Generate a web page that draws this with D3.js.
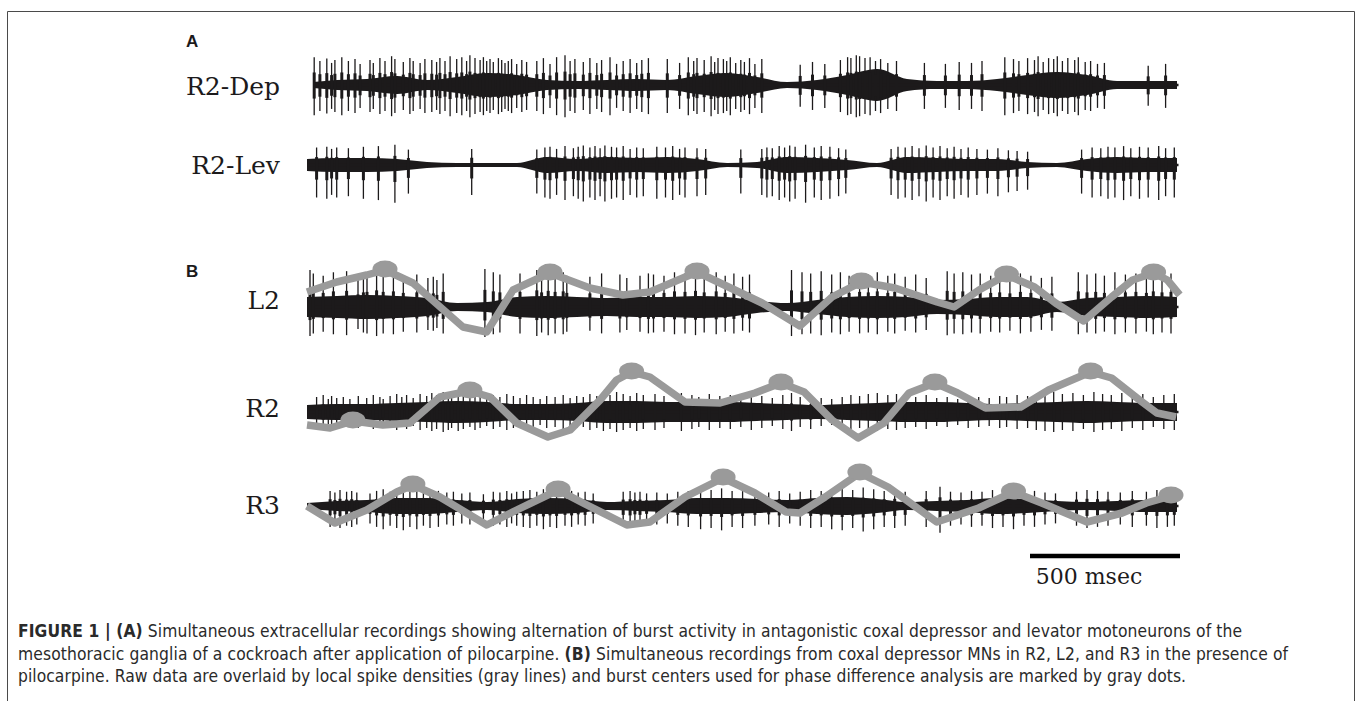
<!DOCTYPE html>
<html>
<head>
<meta charset="utf-8">
<script src="https://cdn.jsdelivr.net/npm/d3@7"></script>
<style>
  body { margin: 0; background: #fff; }
  svg { display: block; }
</style>
</head>
<body>
<svg id="fig"></svg>
<script>
// time of each envelope sample (ms)
const envTimes = [0, 100, 200, 300, 400, 500, 600, 700, 800, 900, 1000, 1100, 1200, 1300, 1400,
  1500, 1600, 1700, 1800, 1900, 2000, 2100, 2200, 2300, 2400, 2500, 2600, 2700, 2800, 2900];

// background noise half-amplitude per trace (µV)
const depEnv = [3, 5, 6, 9, 5, 8, 12, 10, 5, 4, 5, 6, 5, 9, 12, 8, 3, 5, 10, 16, 6, 4, 4, 6, 10, 13, 10, 4, 4, 4];
const levEnv = [6, 7, 7, 6, 3, 2, 2, 2, 8, 6, 8, 7, 8, 6, 2, 3, 8, 7, 5, 2, 8, 7, 6, 6, 3, 2, 6, 8, 7, 7];
const l2Env = [10, 11, 12, 11, 9, 4, 5, 10, 11, 10, 9, 10, 10, 11, 10, 6, 4, 7, 10, 11, 10, 7, 8, 10, 10, 5, 9, 10, 11, 10];
const r2Env = [7, 8, 8, 9, 10, 11, 10, 8, 8, 9, 11, 11, 10, 10, 10, 9, 8, 7, 8, 9, 10, 10, 9, 8, 9, 10, 11, 10, 9, 9];
const r3Env = [3, 5, 6, 8, 8, 6, 4, 7, 8, 7, 4, 5, 6, 8, 8, 7, 6, 8, 9, 7, 4, 5, 6, 8, 7, 5, 4, 5, 6, 6];

// large spikes: [time ms, peak-to-peak µV]
const depSpikes = [[24,58],[43,50],[66,55],[82,46],[93,52],[116,58],[138,50],[160,54],[177,44],[210,52],
  [221,46],[243,56],[260,50],[282,60],[293,54],[321,48],[343,56],[354,50],[377,46],[393,54],[416,52],
  [432,48],[443,56],[460,50],[477,60],[499,54],[516,58],[532,50],[543,62],[560,56],[577,52],[588,58],
  [599,50],[610,54],[621,48],[638,56],[649,52],[660,46],[671,50],[682,54],[699,44],[716,52],[732,48],
  [766,50],[788,56],[810,44],[832,58],[860,62],[877,50],[893,54],[921,48],[943,56],[966,46],[982,52],
  [1010,58],[1032,44],[1054,50],[1077,54],[1099,46],[1116,52],[1138,56],[1201,54],[1242,46],[1271,58],
  [1289,50],[1300,56],[1324,52],[1347,60],[1359,48],[1370,56],[1388,54],[1399,50],[1411,58],[1429,46],
  [1446,52],[1458,48],[1475,56],[1493,44],[1516,54],[1644,42],[1685,48],[1726,44],[1778,52],[1802,58],
  [1813,56],[1831,62],[1842,60],[1860,56],[1877,58],[1895,50],[1912,54],[1936,46],[1965,50],[2058,46],
  [2128,44],[2174,48],[2215,46],[2250,50],[2326,58],[2355,54],[2373,50],[2402,56],[2425,52],[2437,60],
  [2454,48],[2472,56],[2489,54],[2501,60],[2518,50],[2536,56],[2559,52],[2571,58],[2594,48],[2612,50],
  [2635,44],[2658,46],[2804,40],[2862,44]];

const levSpikes = [[32,50],[66,52],[82,46],[99,50],[138,48],[188,52],[238,54],[293,58],[338,44],[549,46],
  [766,44],[793,50],[810,52],[832,46],[860,54],[888,48],[904,52],[921,56],[943,50],[960,54],[977,48],
  [993,56],[1015,52],[1032,50],[1054,54],[1077,46],[1099,50],[1121,48],[1166,52],[1195,50],[1219,54],
  [1242,46],[1260,50],[1300,48],[1329,46],[1446,44],[1516,46],[1533,50],[1551,48],[1574,54],[1592,50],
  [1609,56],[1627,52],[1662,58],[1691,50],[1714,54],[1743,52],[1772,48],[1796,44],[1947,46],[1970,52],
  [1994,50],[2017,54],[2040,48],[2064,56],[2087,50],[2110,54],[2134,48],[2157,52],[2180,46],[2204,50],
  [2233,46],[2268,44],[2303,48],[2338,42],[2367,40],[2402,38],[2582,44],[2617,50],[2646,48],[2670,52],
  [2693,50],[2722,54],[2746,48],[2775,52],[2804,50],[2839,54],[2862,48],[2891,50]];

const l2Spikes = [[10,66],[21,60],[54,56],[88,62],[132,64],[170,50],[188,58],[200,60],[232,66],[254,60],
  [288,62],[321,56],[366,58],[403,52],[421,54],[433,48],[454,60],[593,68],[621,62],[643,58],[710,60],
  [766,66],[782,58],[804,64],[827,60],[854,62],[866,56],[943,54],[982,60],[1043,58],[1066,52],[1110,56],
  [1138,60],[1155,58],[1190,56],[1225,62],[1260,60],[1295,64],[1324,58],[1364,62],[1394,56],[1423,60],
  [1452,54],[1475,58],[1615,66],[1650,62],[1679,60],[1714,64],[1749,58],[1778,62],[1807,56],[1842,60],
  [1871,58],[1901,62],[1936,56],[1959,60],[1994,54],[2029,58],[2064,52],[2134,64],[2157,60],[2186,62],
  [2215,58],[2244,60],[2279,56],[2309,58],[2343,54],[2378,60],[2413,56],[2448,52],[2483,54],[2571,62],
  [2600,58],[2629,60],[2658,56],[2693,62],[2728,58],[2763,60],[2798,56],[2821,62],[2850,58],[2880,60]];

const r2Spikes = [[32,30],[54,34],[71,26],[82,32],[99,28],[121,30],[143,26],[171,32],[199,28],[221,34],
  [243,30],[254,26],[277,32],[299,36],[316,30],[332,34],[354,28],[377,36],[399,32],[416,38],[432,34],
  [454,40],[471,36],[482,32],[504,38],[521,34],[543,30],[560,36],[577,32],[599,28],[621,34],[643,30],
  [666,36],[688,32],[710,28],[732,34],[754,30],[777,26],[799,32],[827,30],[854,34],[877,28],[899,32],
  [921,30],[943,36],[966,32],[988,38],[1010,34],[1032,40],[1054,36],[1077,32],[1099,38],[1121,34],
  [1160,36],[1190,32],[1248,38],[1283,34],[1306,30],[1341,36],[1376,32],[1411,34],[1446,30],[1481,36],
  [1516,32],[1551,28],[1586,34],[1615,38],[1644,30],[1679,34],[1714,28],[1749,26],[1784,30],[1813,34],
  [1842,32],[1871,36],[1901,38],[1936,34],[1965,36],[1994,32],[2029,30],[2064,34],[2099,28],[2134,30],
  [2169,26],[2204,32],[2239,30],[2274,28],[2309,32],[2332,30],[2367,34],[2402,32],[2431,36],[2460,38],
  [2489,40],[2518,36],[2553,38],[2588,34],[2623,40],[2652,36],[2681,34],[2716,38],[2751,32],[2786,36],
  [2821,30],[2856,34],[2891,36]];

const r3Spikes = [[77,36],[93,32],[110,38],[132,34],[149,36],[166,32],[210,30],[232,36],[254,40],[277,34],
  [299,38],[321,42],[343,36],[366,40],[388,34],[410,38],[438,36],[466,32],[488,34],[516,30],[543,32],
  [588,28],[621,34],[643,32],[666,36],[682,30],[699,34],[721,36],[743,38],[766,34],[788,40],[810,36],
  [832,38],[860,34],[882,36],[904,32],[927,34],[954,30],[1054,34],[1077,36],[1093,32],[1110,34],[1132,30],
  [1166,32],[1201,30],[1236,34],[1271,36],[1312,40],[1347,38],[1382,42],[1417,36],[1452,38],[1493,34],
  [1539,32],[1574,36],[1609,30],[1644,34],[1679,38],[1714,36],[1749,40],[1784,42],[1819,38],[1854,44],
  [1889,40],[1924,36],[1959,38],[1994,34],[2064,36],[2110,46],[2145,34],[2180,32],[2215,36],[2250,34],
  [2285,38],[2320,36],[2355,40],[2390,34],[2425,36],[2460,32],[2495,30],[2565,34],[2600,38],[2635,36],
  [2670,34],[2711,32],[2751,36],[2798,34],[2833,38],[2868,36],[2891,34]];

// local spike density (gray lines): [time ms, density a.u.]
const l2Density = [[0,15],[99,25],[199,32],[260,37],[353,24],[520,-20],[599,-25],[687,17],[810,34],
  [943,19],[1053,12],[1143,15],[1300,35],[1377,24],[1517,4],[1643,-19],[1750,10],[1848,25],[1960,19],
  [2100,5],[2157,0],[2240,17],[2332,32],[2425,20],[2495,4],[2589,-14],[2682,10],[2752,27],[2822,34],
  [2868,27],[2909,12]];
const r2Density = [[0,-13],[77,-16],[153,-9],[253,-13],[343,-11],[443,15],[543,21],[610,15],[699,-11],
  [803,-25],[877,-18],[977,12],[1032,32],[1082,40],[1143,35],[1260,10],[1377,9],[1493,19],[1580,29],
  [1657,20],[1750,-8],[1837,-26],[1923,-11],[2007,19],[2093,29],[2169,19],[2262,4],[2379,5],[2472,22],
  [2612,40],[2682,34],[2775,12],[2833,-1],[2897,-5]];
const r3Density = [[0,0],[93,-17],[199,-4],[299,14],[353,21],[443,9],[599,-19],[699,-4],[837,16],
  [920,3],[1066,-19],[1143,-16],[1260,9],[1387,28],[1493,13],[1597,-6],[1643,-7],[1727,9],[1843,33],
  [1937,19],[2099,-16],[2239,-2],[2355,14],[2449,3],[2600,-16],[2717,-7],[2798,3],[2880,10]];

// burst centers (gray dots)
const l2Centers = [[260,37],[810,34],[1300,35],[1848,25],[2332,32],[2822,34]];
const r2Centers = [[153,-9],[543,21],[1082,40],[1580,29],[2093,29],[2612,40]];
const r3Centers = [[353,21],[837,16],[1387,28],[1843,33],[2355,14],[2880,10]];

const traceLabels = ["R2-Dep", "R2-Lev", "L2", "R2", "R3"];
const scaleBarMs = 500;

const captionLines = [
  [["FIGURE 1 | (A)", true], [" Simultaneous extracellular recordings showing alternation of burst activity in antagonistic coxal depressor and levator motoneurons of the", false]],
  [["mesothoracic ganglia of a cockroach after application of pilocarpine. ", false], ["(B)", true], [" Simultaneous recordings from coxal depressor MNs in R2, L2, and R3 in the presence of", false]],
  [["pilocarpine. Raw data are overlaid by local spike densities (gray lines) and burst centers used for phase difference analysis are marked by gray dots.", false]]
];
const captionWidths = [1224, 1270, 1168];

const width = 1357, height = 701;
const ink = "#1c1a1b";
const gray = "#9a9a9a";
const serif = "'DejaVu Serif', 'Liberation Serif', serif";

const svg = d3.select("#fig").attr("width", width).attr("height", height);

// figure frame
svg.append("path")
  .attr("d", "M7.5,760 V11.5 H1354.5 V760")
  .attr("fill", "none").attr("stroke", "#4a4a4a").attr("stroke-width", 1);

const x = d3.scaleLinear().domain([0, 2910]).range([307, 1180]);

const traces = [
  { env: depEnv, spikes: depSpikes, base: 85, up: 0.48, labelY: 95, start: 20 },
  { env: levEnv, spikes: levSpikes, base: 165, up: 0.35, labelY: 174, start: 0 },
  { env: l2Env, spikes: l2Spikes, base: 307, up: 0.56, labelY: 309, start: 0, density: l2Density, centers: l2Centers },
  { env: r2Env, spikes: r2Spikes, base: 412, up: 0.5, labelY: 417, start: 0, density: r2Density, centers: r2Centers },
  { env: r3Env, spikes: r3Spikes, base: 506, up: 0.42, labelY: 514, start: 0, density: r3Density, centers: r3Centers }
];

traces.forEach((tr, i) => {
  // 1 µV ~ 1 px around each trace baseline
  const y = d3.scaleLinear().domain([-60, 60]).range([tr.base + 60, tr.base - 60]);
  const g = svg.append("g").attr("class", "trace");

  const band = envTimes.map((t, k) => [Math.max(t, tr.start), tr.env[k]]);
  g.append("path")
    .datum(band)
    .attr("d", d3.area()
      .x(d => x(d[0]))
      .y0(d => y(-d[1]))
      .y1(d => y(d[1]))
      .curve(d3.curveMonotoneX))
    .attr("fill", ink);

  g.append("line")
    .attr("x1", x(tr.start)).attr("x2", x(2905))
    .attr("y1", y(0)).attr("y2", y(0))
    .attr("stroke", ink).attr("stroke-width", 2.5);

  const spikes = g.selectAll(".spike")
    .data(tr.spikes)
    .join("g")
    .attr("class", "spike");

  // thin full-height stroke
  spikes.append("line")
    .attr("x1", d => x(d[0])).attr("x2", d => x(d[0]))
    .attr("y1", d => y(d[1] * tr.up))
    .attr("y2", d => y(-d[1] * (1 - tr.up)))
    .attr("stroke", ink)
    .attr("stroke-width", 1.3);

  // heavier base of the spike waveform
  spikes.append("line")
    .attr("x1", d => x(d[0])).attr("x2", d => x(d[0]))
    .attr("y1", d => y(d[1] * tr.up * 0.45))
    .attr("y2", d => y(-d[1] * (1 - tr.up) * 0.45))
    .attr("stroke", ink)
    .attr("stroke-width", 3);

  if (tr.density) {
    g.append("path")
      .datum(tr.density)
      .attr("d", d3.line().x(d => x(d[0])).y(d => y(d[1])))
      .attr("fill", "none")
      .attr("stroke", gray)
      .attr("stroke-width", 7.5)
      .attr("stroke-linejoin", "round");

    g.selectAll(".center")
      .data(tr.centers)
      .join("ellipse")
      .attr("class", "center")
      .attr("cx", d => x(d[0]))
      .attr("cy", d => y(d[1]) - 1)
      .attr("rx", 12.5)
      .attr("ry", 8.5)
      .attr("fill", gray);
  }

  svg.append("text")
    .attr("x", 280)
    .attr("y", tr.labelY)
    .attr("text-anchor", "end")
    .style("font-family", serif)
    .style("font-size", "25px")
    .style("fill", ink)
    .text(traceLabels[i]);
});

// panel letters
[["A", 47], ["B", 277]].forEach(([t, yy]) => {
  svg.append("text")
    .attr("x", 186).attr("y", yy)
    .style("font-family", "'Liberation Sans', Arial, sans-serif")
    .style("font-weight", "bold")
    .style("font-size", "17px")
    .style("fill", ink)
    .text(t);
});

// scale bar
svg.append("line")
  .attr("x1", x(2910 - scaleBarMs)).attr("x2", x(2910))
  .attr("y1", 556).attr("y2", 556)
  .attr("stroke", "#000").attr("stroke-width", 4.5);

svg.append("text")
  .attr("x", 1089).attr("y", 584)
  .attr("text-anchor", "middle")
  .style("font-family", serif)
  .style("font-size", "22px")
  .style("fill", ink)
  .text(`${scaleBarMs} msec`);

// caption, one text element per line stretched to the printed width
captionLines.forEach((parts, li) => {
  const line = svg.append("text")
    .attr("x", 18)
    .attr("y", 637 + li * 22.5)
    .attr("textLength", captionWidths[li])
    .attr("lengthAdjust", "spacing")
    .style("font-family", "'DejaVu Sans Condensed', 'Liberation Sans', sans-serif")
    .style("font-size", "17.3px")
    .style("fill", "#2a2a2a");
  parts.forEach(([txt, bold]) => {
    line.append("tspan")
      .style("font-weight", bold ? "bold" : "normal")
      .text(txt);
  });
});
</script>
</body>
</html>
